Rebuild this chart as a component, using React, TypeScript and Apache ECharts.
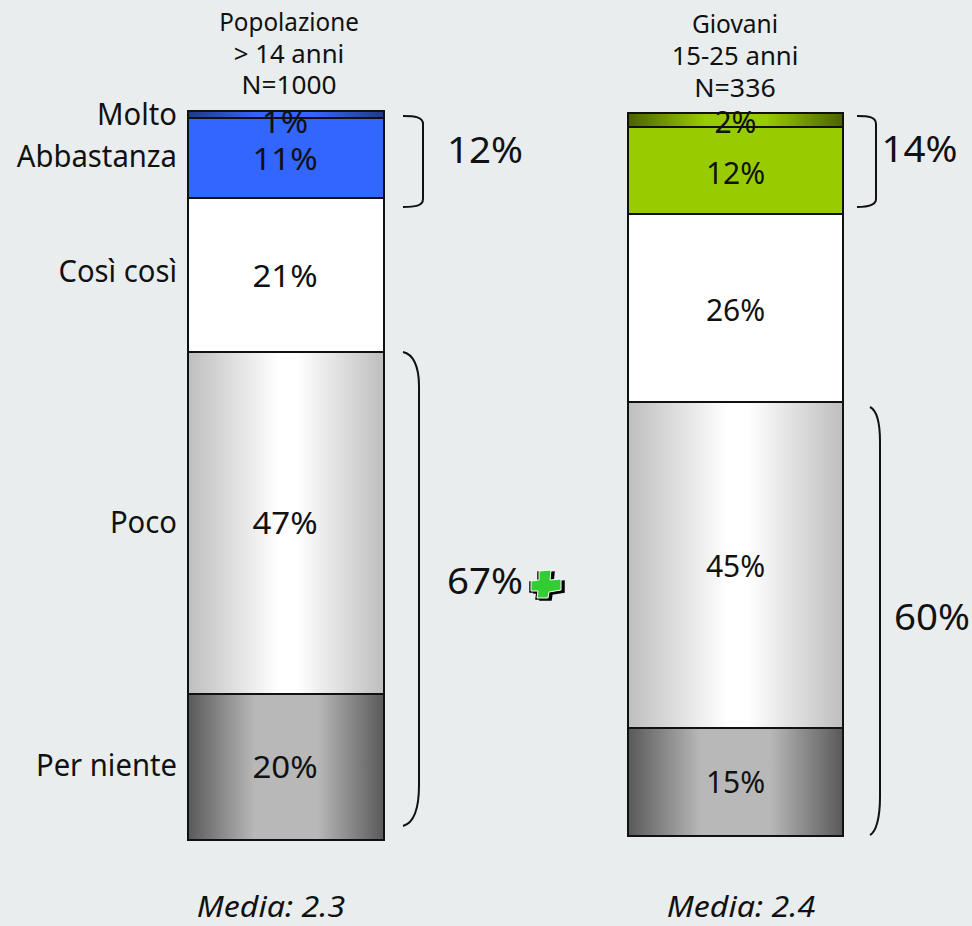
import React, { useEffect, useRef } from "react";
import * as echarts from "echarts";

const segmentNames = ["Molto", "Abbastanza", "Così così", "Poco", "Per niente"];
const populationValues = [1, 11, 21, 47, 20];
const youthValues = [2, 12, 26, 45, 15];
const populationHeader = ["Popolazione", "> 14 anni", "N=1000"];
const youthHeader = ["Giovani", "15-25 anni", "N=336"];
const populationMean = "Media: 2.3";
const youthMean = "Media: 2.4";
const populationTotals = ["12%", "67%"];
const youthTotals = ["14%", "60%"];

const FONT = "'Noto Sans', sans-serif";
const INK = "#111111";
const BG = "#E9EDEE";

const sideGradient = (edge: string, mid: string, from = 0.5, to = 0.5) => ({
  type: "linear", x: 0, y: 0, x2: 1, y2: 0,
  colorStops: [
    { offset: 0, color: edge },
    { offset: from, color: mid },
    { offset: to, color: mid },
    { offset: 1, color: edge },
  ],
});

const greys = [sideGradient("#BEBEBE", "#FFFFFF", 0.46, 0.56), sideGradient("#595959", "#B8B8B8", 0.34, 0.66)];
const populationFills = [sideGradient("#1F3A8C", "#3366FF", 0.36, 0.64), "#3366FF", "#FFFFFF", ...greys];
const youthFills = [sideGradient("#4A6200", "#99CC00", 0.36, 0.64), "#99CC00", "#FFFFFF", ...greys];

// Braces are one stroke each, in page coordinates
const braces: Record<string, string> = {
  popTop: "M403 116 C415 116 423 117 423 124 L423 199 C423 206 415 207 403 207",
  popBottom: "M403 352 C413 354 419 366 419 386 L419 785 C419 808 414 823 403 826",
  youthTop: "M857 116 C869 116 876 117 876 124 L876 199 C876 205 869 207 857 207",
  youthBottom: "M870 407 C876 410 880 422 880 442 L880 797 C880 818 876 832 870 835",
};
Object.entries(braces).forEach(([name, d]) => {
  echarts.graphic.registerShape(name, echarts.graphic.extendPath(d, {}));
});

const crossPoints = (dx: number, dy: number) =>
  [
    [539, 571], [551, 570], [550, 580], [561, 579], [561, 590], [549, 592], [548, 598], [537, 598], [538, 591], [531, 591], [531, 581], [539, 580],
  ].map(([x, y]) => [x + dx, y + dy]);

// One stacked column: each data item carries its running start and end on the value axis
const column = (values: number[], fills: unknown[], axis: number, fontSize: number, squeeze: number, offsets: number[]) => {
  let running = 0;
  const data = values.map((v) => {
    const item = [0, running, running + v, v];
    running += v;
    return item;
  });
  return {
    type: "custom",
    coordinateSystem: "cartesian2d",
    xAxisIndex: axis,
    yAxisIndex: axis,
    encode: { x: 0, y: [1, 2] },
    clip: false,
    data,
    renderItem: (params: any, api: any) => {
      const i = params.dataIndex;
      const start = api.coord([0, api.value(1)]);
      const end = api.coord([0, api.value(2)]);
      const width = api.size([1, 0])[0];
      const left = Math.round(start[0] - width / 2);
      const top = Math.round(start[1]);
      const bottom = Math.round(end[1]);
      return {
        type: "group",
        children: [
          {
            type: "rect",
            shape: { x: left, y: top, width, height: bottom - top },
            style: { fill: fills[i], stroke: INK, lineWidth: 2 },
          },
          {
            type: "text",
            z2: 50,
            x: start[0] + offsets[i * 2],
            y: (start[1] + end[1]) / 2 + offsets[i * 2 + 1],
            scaleX: squeeze,
            style: {
              text: `${api.value(3)}%`,
              fill: INK,
              fontFamily: FONT,
              fontSize,
              textAlign: "center",
              textVerticalAlign: "middle",
            },
          },
        ],
      };
    },
  };
};

const text = (x: number, y: number, t: string, fontSize: number, scaleX = 1, align = "center", fontStyle = "normal") => ({
  type: "text",
  x,
  y,
  scaleX,
  style: { text: t, fill: INK, fontFamily: FONT, fontSize, fontStyle, textAlign: align, textVerticalAlign: "middle" },
  z: 20,
});

const brace = (name: string) => ({
  type: name,
  x: 0,
  y: 0,
  style: { fill: "none", stroke: INK, lineWidth: 2 },
  z: 10,
});

export default function App() {
  const ref = useRef<HTMLDivElement>(null);
  useEffect(() => {
    const chart = echarts.init(ref.current!, null, { renderer: "svg" });
    const axisOff = { show: false };
    chart.setOption({
      animation: false,
      backgroundColor: BG,
      grid: [
        { left: 188, top: 111, width: 196, height: 729 },
        { left: 628, top: 113, width: 215, height: 723 },
      ],
      xAxis: [
        { type: "category", gridIndex: 0, data: ["Popolazione"], ...axisOff },
        { type: "category", gridIndex: 1, data: ["Giovani"], ...axisOff },
      ],
      yAxis: [
        { type: "value", gridIndex: 0, min: 0, max: 100, inverse: true, ...axisOff },
        { type: "value", gridIndex: 1, min: 0, max: 100, inverse: true, ...axisOff },
      ],
      series: [
        column(populationValues, populationFills, 0, 30, 1.1, [-1, 6, -1, 0, -1, 0, -1, -1, -1, -1]),
        column(youthValues, youthFills, 1, 30, 1.0, [0, 1, 0, 2, 0, 1, 0, 1, 0, 0]),
      ],
      graphic: [
        ...populationHeader.map((t, i) => text(289, [21, 53, 85][i], t, 25, [0.97, 1.03, 1.05][i])),
        ...youthHeader.map((t, i) => text(735, [23, 55, 87][i], t, 25, [0.98, 1.03, 1.07][i])),
        ...segmentNames.map((t, i) => text(177, [113, 155, 270, 521, 764][i], t, 30, 0.975, "right")),
        text(485, 149, populationTotals[0], 37, 1.04),
        text(485, 580, populationTotals[1], 37, 1.04),
        text(919.5, 148, youthTotals[0], 37, 1.04),
        text(932, 616, youthTotals[1], 37, 1.04),
        text(271, 906, populationMean, 29, 1.11, "center", "italic"),
        text(741, 906, youthMean, 29, 1.11, "center", "italic"),
        ...Object.keys(braces).map(brace),
        { type: "polygon", shape: { points: crossPoints(3, 2) }, style: { fill: "#000000", stroke: "#000000", lineWidth: 1.5 }, z: 11 },
        { type: "polygon", shape: { points: crossPoints(-1, 1) }, style: { fill: "#000000", stroke: "#000000", lineWidth: 1.5 }, z: 11 },
        { type: "polygon", shape: { points: crossPoints(0, 0) }, style: { fill: "#33CC33", stroke: "#FFFFFF", lineWidth: 1 }, z: 12 },
      ],
    });
    return () => chart.dispose();
  }, []);
  return <div ref={ref} style={{ position: "fixed", left: 0, top: 0, width: 972, height: 926 }} />;
}
